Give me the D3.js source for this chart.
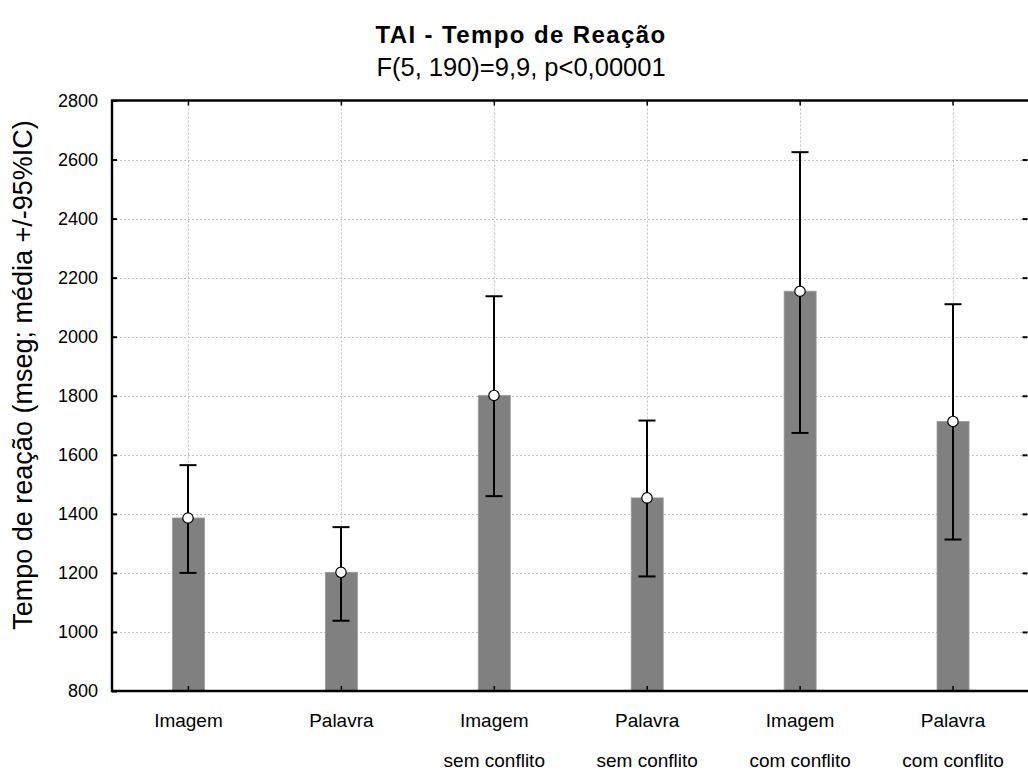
<!DOCTYPE html>
<html>
<head>
<meta charset="utf-8">
<script src="https://cdn.jsdelivr.net/npm/d3@7"></script>
<style>
  html, body { margin: 0; padding: 0; background: #fff; }
  svg { display: block; font-family: "Liberation Sans", Arial, sans-serif; }
</style>
</head>
<body>
<svg id="chart" width="1028" height="771"></svg>
<script>
// Condition labels (two lines each)
const categories = ["Imagem", "Palavra", "Imagem sem", "Palavra sem", "Imagem com", "Palavra com"];
const labelLine1 = ["Imagem", "Palavra", "Imagem", "Palavra", "Imagem", "Palavra"];
const labelLine2 = ["", "", "sem conflito", "sem conflito", "com conflito", "com conflito"];

// Mean reaction time (ms) and 95% confidence interval bounds
const means = [1386, 1202, 1801, 1454, 2154, 1713];
const ciLow = [1200, 1038, 1460, 1188, 1674, 1313];
const ciHigh = [1565, 1355, 2137, 1716, 2625, 2110];

const yTicks = [800, 1000, 1200, 1400, 1600, 1800, 2000, 2200, 2400, 2600, 2800];

const title = "TAI - Tempo de Reação";
const subtitle = "F(5, 190)=9,9, p<0,00001";
const yTitle = "Tempo de reação (mseg; média +/-95%IC)";

const svg = d3.select("#chart");
const pL = 112, pR = 1029.5, pT = 100.5, pB = 691;

const x = d3.scaleBand().domain(categories).range([pL, pR]);
const y = d3.scaleLinear().domain([800, 2800]).range([pB, pT]);
const cx = c => x(c) + x.bandwidth() / 2;

const grid = svg.append("g").attr("stroke", "#c4c4c4").attr("stroke-width", 1)
  .attr("stroke-dasharray", "2,2");
// horizontal grid
grid.selectAll("line.h").data(yTicks.slice(1, -1)).join("line")
  .attr("x1", pL).attr("x2", pR)
  .attr("y1", d => Math.round(y(d)) + 0.5).attr("y2", d => Math.round(y(d)) + 0.5);
// vertical grid
grid.selectAll("line.v").data(categories).join("line")
  .attr("x1", d => Math.round(cx(d)) + 0.5).attr("x2", d => Math.round(cx(d)) + 0.5)
  .attr("y1", pT).attr("y2", pB);

// bars
const barW = 32;
svg.append("g").selectAll("rect").data(categories).join("rect")
  .attr("x", d => cx(d) - barW / 2)
  .attr("width", barW)
  .attr("y", (d, i) => y(means[i]))
  .attr("height", (d, i) => pB - y(means[i]))
  .attr("fill", "#808080")
  .attr("stroke", "#999")
  .attr("stroke-width", 0.8);

// error bars
const err = svg.append("g").attr("stroke", "#000").attr("stroke-width", 2);
categories.forEach((c, i) => {
  const xc = Math.round(cx(c));
  err.append("line").attr("x1", xc).attr("x2", xc).attr("y1", y(ciLow[i])).attr("y2", y(ciHigh[i]));
  err.append("line").attr("x1", xc - 8.5).attr("x2", xc + 8.5).attr("y1", y(ciLow[i])).attr("y2", y(ciLow[i]));
  err.append("line").attr("x1", xc - 8.5).attr("x2", xc + 8.5).attr("y1", y(ciHigh[i])).attr("y2", y(ciHigh[i]));
});
// mean markers
svg.append("g").selectAll("circle").data(categories).join("circle")
  .attr("cx", d => Math.round(cx(d)))
  .attr("cy", (d, i) => y(means[i]))
  .attr("r", 5.2)
  .attr("fill", "#fff")
  .attr("stroke", "#000")
  .attr("stroke-width", 1.2);

// axes: ticks pointing inward
const axL = d3.axisRight(y).tickValues(yTicks).tickSize(5).tickFormat("");
svg.append("g").attr("transform", `translate(${pL},0)`).call(axL)
  .call(g => g.select(".domain").remove())
  .selectAll("line").attr("stroke", "#000").attr("stroke-width", 2);
const axR = d3.axisLeft(y).tickValues(yTicks.slice(1, -1)).tickSize(5).tickFormat("");
svg.append("g").attr("transform", `translate(${pR - 2},0)`).call(axR)
  .call(g => g.select(".domain").remove())
  .selectAll("line").attr("stroke", "#000").attr("stroke-width", 2);
const axB = d3.axisTop(x).tickSize(5).tickFormat("").offset(0);
svg.append("g").attr("transform", `translate(0,${pB})`).call(axB)
  .call(g => g.select(".domain").remove())
  .selectAll("line").attr("stroke", "#000").attr("stroke-width", 1.5);
const axT = d3.axisBottom(x).tickSize(5).tickFormat("").offset(0);
svg.append("g").attr("transform", `translate(0,${pT})`).call(axT)
  .call(g => g.select(".domain").remove())
  .selectAll("line").attr("stroke", "#000").attr("stroke-width", 1.5);

// frame
svg.append("path")
  .attr("d", `M${pR},${pT}H${pL}V${pB}H${pR}`)
  .attr("fill", "none").attr("stroke", "#000").attr("stroke-width", 2.4);

// tick labels
svg.append("g").selectAll("text").data(yTicks).join("text")
  .attr("x", 98).attr("y", d => y(d)).attr("dy", "0.36em")
  .attr("text-anchor", "end").attr("font-size", 18).attr("fill", "#000")
  .text(d => d);

const xl = svg.append("g").attr("font-size", 19).attr("text-anchor", "middle").attr("fill", "#000");
categories.forEach((c, i) => {
  xl.append("text").attr("x", cx(c)).attr("y", 727).text(labelLine1[i]);
  if (labelLine2[i]) xl.append("text").attr("x", cx(c)).attr("y", 767).text(labelLine2[i]);
});

// titles
svg.append("text").attr("x", 521).attr("y", 43).attr("text-anchor", "middle")
  .attr("font-size", 24).attr("font-weight", "bold").attr("letter-spacing", 1.4).text(title);
svg.append("text").attr("x", 521).attr("y", 76).attr("text-anchor", "middle")
  .attr("font-size", 25.5).text(subtitle);
svg.append("text").attr("transform", `translate(32,375) rotate(-90)`)
  .attr("text-anchor", "middle").attr("font-size", 27).text(yTitle);
</script>
</body>
</html>
